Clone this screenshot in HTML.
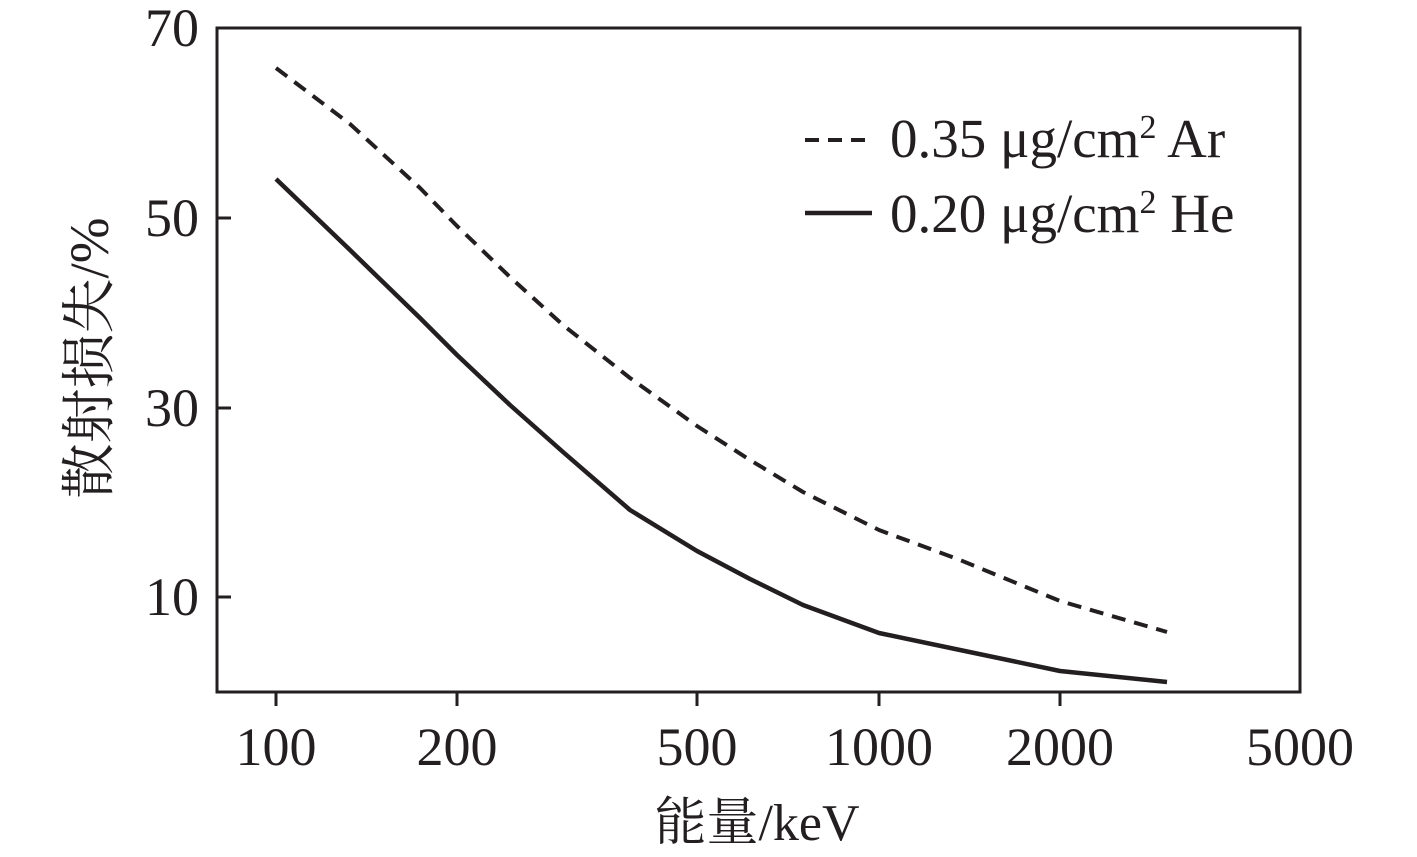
<!DOCTYPE html>
<html><head><meta charset="utf-8"><style>
html,body{margin:0;padding:0;background:#fff;}
svg{display:block;}
text{font-family:"Liberation Serif","Noto Serif CJK SC",serif;fill:#231f20;}
</style></head><body>
<svg width="1417" height="857" viewBox="0 0 1417 857" xmlns="http://www.w3.org/2000/svg">
<g stroke="#231f20" fill="none">
<rect x="217" y="28" width="1083" height="664" stroke-width="3"/>
<line x1="217" y1="597" x2="231" y2="597" stroke-width="3"/>
<line x1="217" y1="408" x2="231" y2="408" stroke-width="3"/>
<line x1="217" y1="218" x2="231" y2="218" stroke-width="3"/>
<line x1="276" y1="692" x2="276" y2="706" stroke-width="3"/>
<line x1="457" y1="692" x2="457" y2="706" stroke-width="3"/>
<line x1="697" y1="692" x2="697" y2="706" stroke-width="3"/>
<line x1="879" y1="692" x2="879" y2="706" stroke-width="3"/>
<line x1="1060" y1="692" x2="1060" y2="706" stroke-width="3"/>
<polyline stroke-width="4" stroke-linejoin="round" stroke-dasharray="14,9" points="276,68 350,124 420,188 457,226 510,277 563,325 630,378 697,426 750,460 803,492 879,530 960,560 1060,601 1167,632"/>
<polyline stroke-width="4.5" stroke-linejoin="round" points="276,179 350,250 420,318 457,355 510,405 563,452 630,510 697,551 750,579 803,605 879,633 960,650 1060,671 1167,682"/>
<line x1="805" y1="140" x2="872" y2="140" stroke-width="4" stroke-dasharray="14,9"/>
<line x1="805" y1="213" x2="872" y2="213" stroke-width="4.5"/>
</g>
<g font-size="54" text-anchor="end">
<text x="199" y="46">70</text>
<text x="199" y="236">50</text>
<text x="199" y="426">30</text>
<text x="199" y="615">10</text>
</g>
<g font-size="54" text-anchor="middle">
<text x="276" y="765">100</text>
<text x="457" y="765">200</text>
<text x="697" y="765">500</text>
<text x="879" y="765">1000</text>
<text x="1060" y="765">2000</text>
<text x="1300" y="765">5000</text>
</g>
<text x="890" y="157" font-size="55">0.35 μg/cm<tspan font-size="34" dy="-19">2</tspan><tspan dy="19"> Ar</tspan></text>
<text x="890" y="232" font-size="55">0.20 μg/cm<tspan font-size="34" dy="-19">2</tspan><tspan dy="19"> He</tspan></text>
<text x="757" y="840" font-size="52" text-anchor="middle">能量/keV</text>
<text transform="translate(108,358) rotate(-90)" font-size="55" text-anchor="middle">散射损失/%</text>
</svg>
</body></html>
